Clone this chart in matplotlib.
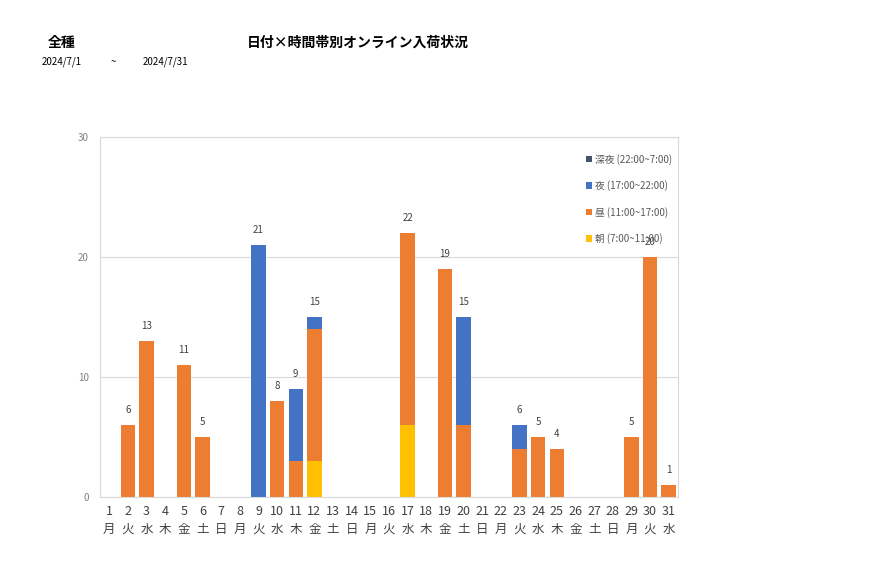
import matplotlib
matplotlib.use("Agg")
import matplotlib.pyplot as plt
import numpy as np

plt.rcParams['font.family'] = ['Noto Sans CJK JP', 'DejaVu Sans']

days = list(range(1, 32))
weekdays = ["月", "火", "水", "木", "金", "土", "日"]
day_labels = [f"{d}\n{weekdays[(d - 1) % 7]}" for d in days]

# counts per time slot, by day of month
asa = {12: 3, 17: 6}
hiru = {2: 6, 3: 13, 5: 11, 6: 5, 10: 8, 11: 3, 12: 11, 17: 16, 19: 19, 20: 6,
        23: 4, 24: 5, 25: 4, 29: 5, 30: 20, 31: 1}
yoru = {9: 21, 11: 6, 12: 1, 20: 9, 23: 2}
shinya = {}

series = [
    ("朝 (7:00~11:00)", asa, "#FFC000"),
    ("昼 (11:00~17:00)", hiru, "#ED7D31"),
    ("夜 (17:00~22:00)", yoru, "#4472C4"),
    ("深夜 (22:00~7:00)", shinya, "#44546A"),
]

fig = plt.figure(figsize=(8.77, 5.78), dpi=100)
ax = fig.add_axes([100 / 877, 81 / 578, 578 / 877, 360 / 578])

x = np.arange(len(days))
bottom = np.zeros(len(days))
handles = []
for name, vals, color in series:
    v = np.array([vals.get(d, 0) for d in days], dtype=float)
    h = ax.bar(x, v, bottom=bottom, width=0.78, color=color, label=name,
               linewidth=0)
    handles.append(h)
    bottom += v

for i, tot in enumerate(bottom):
    if tot > 0:
        ax.text(x[i], tot + 0.8, f"{int(tot)}", ha="center", va="bottom",
                fontsize=7, color="#404040")

ax.set_xlim(-0.5, len(days) - 0.5)
ax.set_ylim(0, 30)
ax.set_yticks([0, 10, 20, 30])
ax.set_xticks(x)
ax.set_xticklabels(day_labels, fontsize=9, color="#404040", linespacing=1.45)
ax.tick_params(axis="y", labelsize=7, labelcolor="#808080", length=0, pad=8)
ax.tick_params(axis="x", length=0, pad=6)
ax.yaxis.grid(True, color="#D9D9D9", linewidth=0.8)
ax.set_axisbelow(True)
for s in ax.spines.values():
    s.set_color("#D9D9D9")

leg = ax.legend(handles[::-1], [s[0] for s in series][::-1], loc="upper right",
                bbox_to_anchor=(1.0, 0.97), frameon=False, fontsize=7,
                labelcolor="#595959", handlelength=0.6, handleheight=0.6,
                handletextpad=0.3, labelspacing=1.6, borderaxespad=0.2)

fig.text(62 / 877, 1 - 43 / 578, "全種", ha="center", va="center",
         fontsize=10, fontweight="bold")
fig.text(358 / 877, 1 - 43 / 578, "日付×時間帯別オンライン入荷状況",
         ha="center", va="center", fontsize=10, fontweight="bold")
fig.text(42 / 877, 1 - 62 / 578, "2024/7/1", ha="left", va="center", fontsize=7)
fig.text(113 / 877, 1 - 62 / 578, "~", ha="center", va="center", fontsize=7)
fig.text(143 / 877, 1 - 62 / 578, "2024/7/31", ha="left", va="center", fontsize=7)

fig.savefig("out.png", dpi=100)
